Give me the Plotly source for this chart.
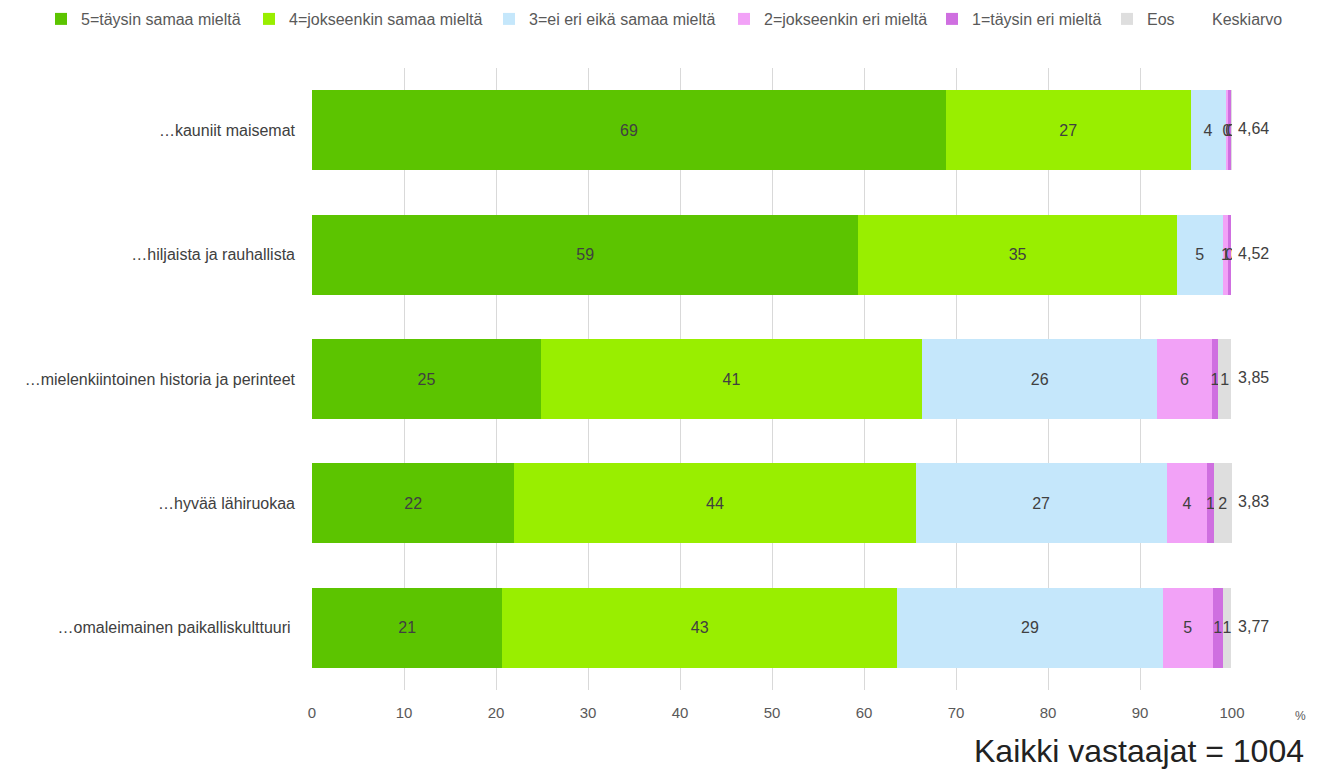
import plotly.graph_objects as go

categories = ["…kauniit maisemat", "…hiljaista ja rauhallista",
              "…mielenkiintoinen historia ja perinteet", "…hyvää lähiruokaa",
              "…omaleimainen paikalliskulttuuri "]
s5 = [68.9, 59.4, 24.9, 22.0, 20.7]
s4 = [26.6, 34.6, 41.4, 43.6, 42.9]
s3 = [3.8, 5.0, 25.6, 27.3, 28.9]
s2 = [0.3, 0.6, 5.9, 4.4, 5.4]
s1 = [0.3, 0.3, 0.7, 0.7, 1.1]
eos = [0.1, 0.0, 1.4, 2.0, 0.9]
means = ["4,64", "4,52", "3,85", "3,83", "3,77"]
series_names = ["5=täysin samaa mieltä", "4=jokseenkin samaa mieltä",
                "3=ei eri eikä samaa mieltä", "2=jokseenkin eri mieltä",
                "1=täysin eri mieltä", "Eos"]
colors = ["#5cc400", "#99ee00", "#c5e7fb", "#f2a2f7", "#cf6fe0", "#dedede"]

FONT = "Liberation Sans, Arial, sans-serif"
TXT = "#404040"

# page is shown with an 8px body margin; figure sized to fit the window
W, H = 1311, 763
ML, MR, MT, MB = 304, 87, 60, 81
pw, ph = W - ML - MR, H - MT - MB

# legend text start positions (page px) for each entry
legend_text_x = [82, 290, 530, 765, 973, 1148, 1213]
legend_names = ["legend", "legend2", "legend3", "legend4", "legend5", "legend6", "legend7"]

fig = go.Figure()
for i, (name, vals, col) in enumerate(zip(series_names, [s5, s4, s3, s2, s1, eos], colors)):
    fig.add_trace(go.Bar(
        y=categories, x=vals, orientation="h", name=name,
        marker=dict(color=col, line=dict(width=0)),
        text=[f"{v:.0f}" if v > 0 else "" for v in vals],
        textposition="inside", insidetextanchor="middle",
        textfont=dict(size=16, color=TXT, family=FONT),
        hoverinfo="x+name", legend=legend_names[i], showlegend=True,
    ))

fig.add_trace(go.Scatter(
    y=categories, x=[100] * len(categories), mode="markers+text",
    name="Keskiarvo", text=[" " + m for m in means], textposition="middle right",
    marker=dict(color="rgba(0,0,0,0)", size=1),
    textfont=dict(size=16, color=TXT, family=FONT), cliponaxis=False,
    legend=legend_names[6], showlegend=True,
))

legend_layout = {}
for i, (ln, tx) in enumerate(zip(legend_names, legend_text_x)):
    legend_layout[ln] = dict(
        orientation="h", x=(tx - 8 - 41) / W, xref="container", xanchor="left",
        y=1 - 11 / H, yref="container", yanchor="middle",
        font=dict(size=16, color="#595959", family=FONT),
        itemwidth=30, bgcolor="rgba(0,0,0,0)", visible=True,
    )

fig.update_layout(
    showlegend=True,
    barmode="stack", bargap=0.357,
    width=W, height=H,
    margin=dict(l=ML, r=MR, t=MT, b=MB, autoexpand=False),
    paper_bgcolor="white", plot_bgcolor="white",
    font=dict(family=FONT, size=15, color=TXT),
    uniformtext=dict(minsize=16, mode="show"),
    xaxis=dict(range=[0, 100], dtick=10, showgrid=True, gridcolor="#d9d9d9",
               gridwidth=1, zeroline=False, showline=False, ticks="",
               tickfont=dict(size=15, color="#595959"), ticklabelstandoff=12),
    yaxis=dict(autorange="reversed", showgrid=False, ticks="", showline=False,
               ticklabelstandoff=16, tickfont=dict(size=16, color=TXT)),
    annotations=[
        dict(text="%", x=(1300 - 8 - ML) / pw, y=(H - MB - (716 - 8)) / ph,
             xref="paper", yref="paper", xanchor="center", yanchor="middle",
             showarrow=False, font=dict(size=12, color="#595959")),
        dict(text="Kaikki vastaajat = 1004", x=(1306 - 8 - ML) / pw,
             y=(H - MB - (751 - 8)) / ph, xref="paper", yref="paper",
             xanchor="right", yanchor="middle",
             showarrow=False, font=dict(size=32, color="#222222")),
    ],
    **legend_layout,
)

fig.write_html("out.html")
